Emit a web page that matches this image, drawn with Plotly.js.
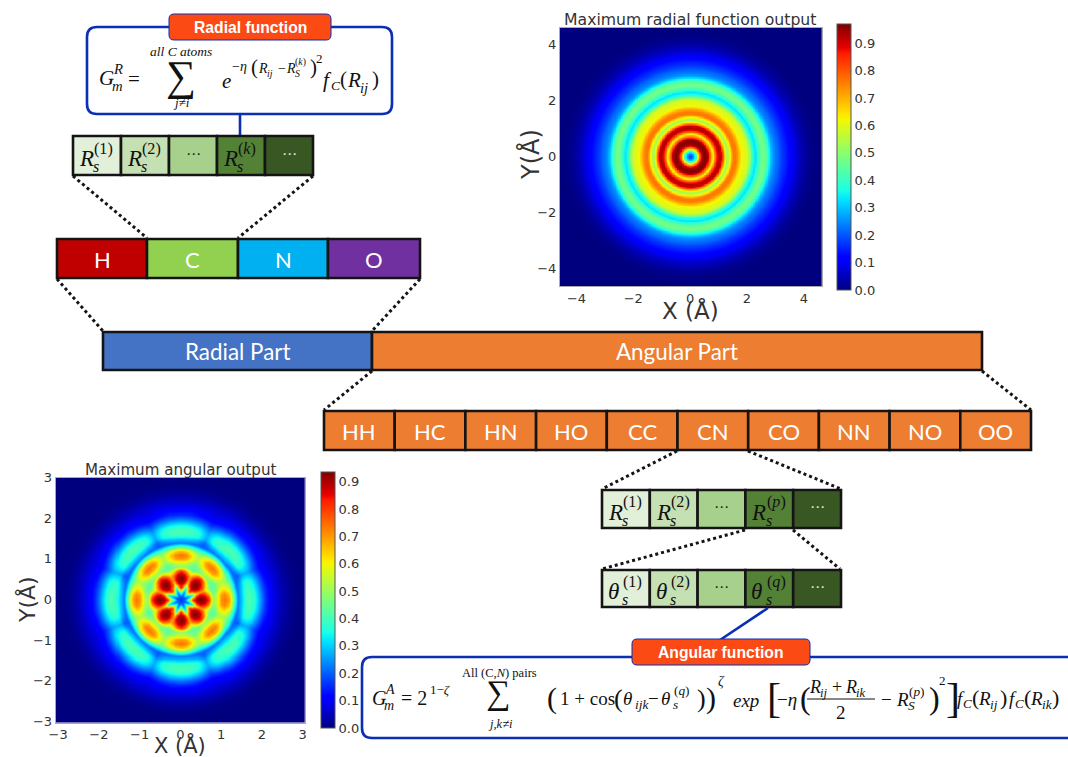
<!DOCTYPE html>
<html><head><meta charset="utf-8">
<script src="https://cdn.plot.ly/plotly-3.0.1.min.js"></script>
<style>html,body{margin:0;padding:0;background:#fff}#c{width:1068px;height:757px}</style>
</head><body><div id="c"></div>
<script>
var W=1068,H=757;
// Radial profile of the "Maximum radial function output" map, read every 0.1 A from the centre
var radialProfile=[.18,.25,.42,.72,.92,.97,.95,.78,.62,.82,.93,.90,.68,.52,.62,.76,.76,.70,.62,.60,.59,.50,.37,.33,.40,.46,.47,.42,.33,.26,.23,.21,.18,.16,.14,.12,.10,.08,.06,.045,.03,.02,.012,.006,.003,0,0,0,0];
// "Maximum angular output" read every 0.1 A (rows) at 0, 7.5, 15, 22.5 degrees off a lobe axis (columns); the map repeats 8 times around
var angularTable=[
[.15,.15,.15,.15],[.22,.22,.20,.18],[.45,.40,.30,.24],[.82,.72,.52,.34],[.90,.88,.80,.60],[.935,.92,.85,.70],
[.90,.88,.80,.68],[.82,.76,.64,.54],[.50,.48,.44,.42],[.56,.54,.48,.44],[.70,.68,.58,.50],[.74,.72,.62,.52],
[.66,.63,.54,.48],[.44,.42,.38,.36],[.23,.22,.21,.20],[.30,.30,.27,.20],[.39,.39,.36,.26],[.41,.40,.37,.27],
[.38,.37,.33,.25],[.30,.29,.26,.20],[.22,.21,.19,.15],[.15,.15,.13,.11],[.11,.11,.10,.09],[.08,.08,.08,.07],
[.06,.06,.06,.06],[.04,.04,.04,.04],[.025,.025,.025,.025],[.012,.012,.012,.012],[.006,.006,.006,.006],[.002,.002,.002,.002],[0,0,0,0],[0,0,0,0],[0,0,0,0]];
var atomLabels=["H","C","N","O"];
var atomColors=["#c00000","#92d050","#00b0f0","#7030a0"];
var pairLabels=["HH","HC","HN","HO","CC","CN","CO","NN","NO","OO"];
var greens=["#e2efd9","#c5e0b3","#a8d08d","#538135","#385723"];
var colorbarTicks=[0,.1,.2,.3,.4,.5,.6,.7,.8,.9];
var radialTicks=[-4,-2,0,2,4], angularTicks=[-3,-2,-1,0,1,2,3];

var jet=[[0,"#00007f"],[.11,"#0000ff"],[.125,"#0000ff"],[.34,"#00e5ff"],[.375,"#1affe6"],[.5,"#7dff7a"],[.64,"#f4f802"],[.66,"#ffe600"],[.89,"#ff1c00"],[.91,"#e80000"],[1,"#7f0000"]];
var px=function(x){return x/W}, py=function(y){return 1-y/H};
var shapes=[],ann=[];
function line(x0,y0,x1,y1,c,w,d){shapes.push({type:"line",xref:"paper",yref:"paper",x0:px(x0),y0:py(y0),x1:px(x1),y1:py(y1),line:{color:c,width:w,dash:d||"solid"}});}
function rect(x0,y0,x1,y1,f,c,w){shapes.push({type:"rect",xref:"paper",yref:"paper",x0:px(x0),y0:py(y0),x1:px(x1),y1:py(y1),fillcolor:f,line:{color:c,width:w}});}
function rrect(x0,y0,x1,y1,r,f,c,w){
 var X=px,Y=py,p="M "+X(x0+r)+" "+Y(y0)+" L "+X(x1-r)+" "+Y(y0)+" Q "+X(x1)+" "+Y(y0)+" "+X(x1)+" "+Y(y0+r)+" L "+X(x1)+" "+Y(y1-r)+" Q "+X(x1)+" "+Y(y1)+" "+X(x1-r)+" "+Y(y1)+" L "+X(x0+r)+" "+Y(y1)+" Q "+X(x0)+" "+Y(y1)+" "+X(x0)+" "+Y(y1-r)+" L "+X(x0)+" "+Y(y0+r)+" Q "+X(x0)+" "+Y(y0)+" "+X(x0+r)+" "+Y(y0)+" Z";
 shapes.push({type:"path",xref:"paper",yref:"paper",path:p,fillcolor:f,line:{color:c,width:w}});}
function txt(x,y,t,size,color,fam,anchor,angle){ann.push({xref:"paper",yref:"paper",x:px(x),y:py(y),text:t,showarrow:false,xanchor:anchor||"center",yanchor:"middle",textangle:angle||0,borderpad:0,font:{size:size,color:color||"#111",family:fam||"Liberation Serif"}});}
function term(x,y,base,sub,sup,size){
 txt(x,y,base,size,"#111",null,"left");
 var s=size*0.7;
 if(sub)txt(x+size*0.62,y+size*0.36,sub,s,"#111",null,"left");
 if(sup)txt(x+size*0.66,y-size*0.42,sup,s,"#111",null,"left");
}
var LATO="Lato, Open Sans, sans-serif", DJ="DejaVu Sans";
var DOT="dot", BLUE="#0b2fb3", K="#141414";

// radial formula box
rrect(87,27,392,114,10,"#fff",BLUE,2.6);
line(240,114,240,136,BLUE,2.6);
rrect(169,14,331,40,5,"#fc4a14",BLUE,1);
txt(250,27.5,"<b>Radial function</b>",15.7,"#fff","Liberation Sans");
term(98,78,"<i>G</i>","<i>m</i>","<i>R</i>",21);
txt(127,79,"=",21,"#111",null,"left");
txt(181,76,"∑",42);
txt(181,51,"<i>all C atoms</i>",13.5);
txt(181,103,"<i>j≠i</i>",13);
txt(221,81,"<i>e</i>",21,"#111",null,"left");
txt(231,67,"−<i>η</i>",14,"#111",null,"left");
txt(250,67,"(",21,"#111",null,"left");
term(257,68,"<i>R</i>","<i>ij</i>",null,14);
txt(277,68,"−",14,"#111",null,"left");
term(285,68,"<i>R</i>","<i>S</i>","(<i>k</i>)",14);
txt(309,67,")",21,"#111",null,"left");
txt(315,58,"2",13,"#111",null,"left");
txt(322,80,"<i>f</i>",21,"#111",null,"left");
txt(330,85,"<i>C</i>",13.5,"#111",null,"left");
txt(339,79,"(",21,"#111",null,"left");
term(346,80,"<i>R</i>","<i>ij</i>",null,21);
txt(371,79,")",21,"#111",null,"left");

// green rows
function greenRow(x0,x1,y0,y1,sym,key){
 var w=(x1-x0)/5;
 for(var i=0;i<5;i++)rect(x0+i*w,y0,x0+(i+1)*w,y1,greens[i],K,2.6);
 var yc=(y0+y1)/2+3, sups=["(1)","(2)",null,key,null];
 for(i=0;i<5;i++){
  if(sups[i])term(x0+i*w+5,yc,"<i>"+sym+"</i>","<i>s</i>",sups[i],23);
  else txt(x0+(i+.5)*w,yc-5,"⋯",15,i==4?"#e8e8e8":"#222",DJ);
 }
}
greenRow(73,313,136,175,"R","(<i>k</i>)");
line(73,176,147,238,K,3,DOT); line(313,176,238,238,K,3,DOT);

// atom row
var ax=[57,147,238,328,420];
atomLabels.forEach(function(l,i){rect(ax[i],239,ax[i+1],278,atomColors[i],K,2.6);txt((ax[i]+ax[i+1])/2,259,l,22,"#fff",LATO);});
line(57,279,103,331,K,3,DOT); line(420,279,372,331,K,3,DOT);

// part row
rect(103,332,372,370,"#4472c4",K,2.6); rect(372,332,982,370,"#ed7d31",K,2.6);
txt(237,351,"Radial Part",22.4,"#fff",LATO); txt(677,351,"Angular Part",22.4,"#fff",LATO);
line(372,371,324,410,K,3,DOT); line(982,371,1031,410,K,3,DOT);

// pair row
var pw=(1031-324)/10;
pairLabels.forEach(function(l,i){rect(324+i*pw,411,324+(i+1)*pw,450,"#ed7d31",K,2.6);txt(324+(i+.5)*pw,431,l,22,"#fff",LATO);});
line(677,451,602,489,K,3,DOT); line(748,451,841,489,K,3,DOT);
greenRow(602,841,490,528,"R","(<i>p</i>)");
line(745,530,602,569,K,3,DOT); line(793,530,840,569,K,3,DOT);
greenRow(602,841,570,607,"θ","(<i>q</i>)");
line(768,608,720,640,BLUE,2.6);

// angular formula box
rrect(362,657,1100,738,10,"#fff",BLUE,2.6);
rrect(632,639,810,665,5,"#fc4a14",BLUE,1);
txt(721,652,"<b>Angular function</b>",15.7,"#fff","Liberation Sans");
term(371,698,"<i>G</i>","<i>m</i>","<i>A</i>",20);
txt(400,698,"= 2",20,"#111",null,"left");
txt(429,689,"1−<i>ζ</i>",13,"#111",null,"left");
txt(498,693,"∑",34);
txt(499,673,"All (C,<i>N</i>) pairs",12.5);
txt(500,724,"<i>j,k≠i</i>",12.5);
txt(546,698,"(",30,"#111",null,"left");
txt(559,698,"1 + cos",19,"#111",null,"left");
txt(613,698,"(",26,"#111",null,"left");
term(622,698,"<i>θ</i>","<i>ijk</i>",null,19);
txt(647,698,"−",19,"#111",null,"left");
term(660,698,"<i>θ</i>","<i>s</i>","(<i>q</i>)",19);
txt(696,698,")",26,"#111",null,"left");
txt(705,698,")",30,"#111",null,"left");
txt(717,681,"<i>ζ</i>",14,"#111",null,"left");
txt(732,700,"<i>exp</i>",19,"#111",null,"left");
txt(766,698,"[",42,"#111",null,"left");
txt(776,699,"−<i>η</i>",19,"#111",null,"left");
txt(799,698,"(",32,"#111",null,"left");
term(808,687,"<i>R</i>","<i>ij</i>",null,18);
txt(831,687,"+",18,"#111",null,"left");
term(844,687,"<i>R</i>","<i>ik</i>",null,18);
line(807,699,875,699,"#111",1);
txt(841,712,"2",19);
txt(880,699,"−",19,"#111",null,"left");
term(895,699,"<i>R</i>","<i>S</i>","(<i>p</i>)",19);
txt(928,698,")",32,"#111",null,"left");
txt(938,680,"2",13,"#111",null,"left");
txt(945,698,"]",42,"#111",null,"left");
function fc(x,sub){
 txt(x,698,"<i>f</i>",19,"#111",null,"left");
 txt(x+6,703,"<i>C</i>",13,"#111",null,"left");
 txt(x+15,697,"(",22,"#111",null,"left");
 term(x+21,698,"<i>R</i>",sub,null,19);
 txt(x+43,697,")",22,"#111",null,"left");
}
fc(956,"<i>ij</i>"); fc(1008,"<i>ik</i>");

// plot titles
txt(690,19.5,"Maximum radial function output",15.7,"#333",DJ);
txt(180,470,"Maximum angular output",15.1,"#333",DJ);
txt(690,310,"X (Å)",23,"#333",DJ);
txt(531,155,"Y(Å)",24,"#333",DJ,"center",-90);
txt(180,745,"X (Å)",21,"#333",DJ);
txt(27,600,"Y(Å)",22,"#333",DJ,"center",-90);

// resample the polar readings onto the Cartesian raster that a heatmap needs
function axisGrid(lim,st){var a=[];for(var v=-lim;v<=lim+1e-9;v+=st)a.push(+v.toFixed(3));return a;}
function blend(a,b,t){return a+(b-a)*t;}
var rx=axisGrid(4.65,.025), rz=rx.map(function(y){return rx.map(function(x){
  var r=Math.min(Math.hypot(x,y)*10,radialProfile.length-1.001),i=Math.floor(r);
  return blend(radialProfile[i],radialProfile[i+1],r-i);});});
var ag=axisGrid(3.1,.025), az=ag.map(function(y){return ag.map(function(x){
  var r=Math.min(Math.hypot(x,y)*10,angularTable.length-1.001),i=Math.floor(r);
  var t=Math.abs(Math.atan2(y,x)*180/Math.PI)%45; if(t>22.5)t=45-t;
  var c=Math.min(t/7.5,2.999),j=Math.floor(c);
  return blend(blend(angularTable[i][j],angularTable[i][j+1],c-j),blend(angularTable[i+1][j],angularTable[i+1][j+1],c-j),r-i);});});

var cbFont={size:13,color:"#333",family:DJ};
var traces=[
 {type:"heatmap",x:rx,y:rx,z:rz,xaxis:"x",yaxis:"y",zmin:0,zmax:.97,zsmooth:"best",colorscale:jet,hoverinfo:"skip",
  colorbar:{x:px(837),xanchor:"left",xref:"paper",y:py(24),yanchor:"top",yref:"paper",len:266,lenmode:"pixels",thickness:14,thicknessmode:"pixels",xpad:0,ypad:0,tickvals:colorbarTicks,ticktext:colorbarTicks.map(function(v){return v.toFixed(1)}),ticks:"",tickfont:cbFont,outlinecolor:"#555",outlinewidth:1}},
 {type:"heatmap",x:ag,y:ag,z:az,xaxis:"x2",yaxis:"y2",zmin:0,zmax:.935,zsmooth:"best",colorscale:jet,hoverinfo:"skip",
  colorbar:{x:px(320.7),xanchor:"left",xref:"paper",y:py(472),yanchor:"top",yref:"paper",len:256,lenmode:"pixels",thickness:13.5,thicknessmode:"pixels",xpad:0,ypad:0,tickvals:colorbarTicks,ticktext:colorbarTicks.map(function(v){return v.toFixed(1)}),ticks:"",tickfont:cbFont,outlinecolor:"#555",outlinewidth:1}}
];
function ax_(dom,range,ticks,anchor){return {domain:dom,range:range,tickvals:ticks,showgrid:false,zeroline:false,showline:true,mirror:true,linecolor:"#aaa",linewidth:1,ticks:"",tickfont:{size:13,color:"#333",family:DJ},anchor:anchor,tickpad:2};}
var layout={width:W,height:H,margin:{l:0,r:0,t:0,b:0},paper_bgcolor:"#fff",plot_bgcolor:"#fff",showlegend:false,shapes:shapes,annotations:ann,
 xaxis:ax_([px(560),px(821.7)],[-4.58,4.63],radialTicks,"y"),
 yaxis:ax_([py(286),py(28)],[-4.62,4.58],radialTicks,"x"),
 xaxis2:ax_([px(55.7),px(305)],[-3.06,3.06],angularTicks,"y2"),
 yaxis2:ax_([py(722.7),py(477.7)],[-3.04,3.0],angularTicks,"x2")};
Plotly.newPlot("c",traces,layout,{displayModeBar:false,staticPlot:true});
</script></body></html>
